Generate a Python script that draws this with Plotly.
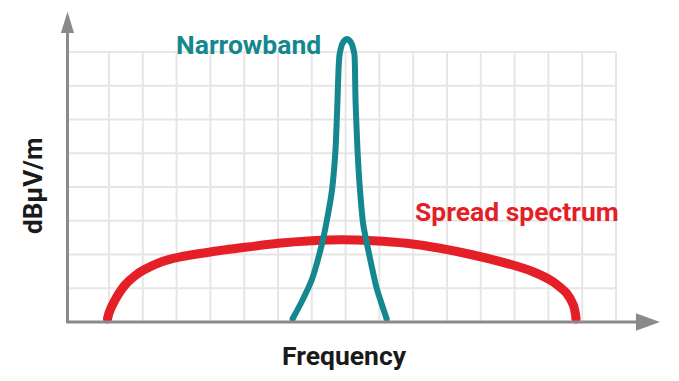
import plotly.graph_objects as go

# ---- data (frequency and level in grid units) ----
spread_x = [0.956, 1.000, 1.178, 1.473, 1.769, 2.065, 2.559, 3.041, 4.038, 5.024, 6.000,
            6.997, 7.885, 8.811, 9.808, 10.793, 11.769, 12.766, 13.544, 14.136, 14.541,
            14.737, 14.808, 14.817]
spread_y = [0.089, 0.267, 0.652, 1.096, 1.372, 1.561, 1.787, 1.917, 2.083, 2.213, 2.332,
            2.409, 2.439, 2.409, 2.332, 2.184, 1.985, 1.739, 1.490, 1.193, 0.850,
            0.504, 0.187, 0.089]

narrow_x = [6.429, 6.701, 6.997, 7.293, 7.420, 7.598, 7.701, 7.760, 7.790, 7.820, 7.849,
            7.893, 7.967, 8.041, 8.115, 8.189, 8.234, 8.263, 8.278, 8.293, 8.352, 8.426,
            8.524, 8.722, 8.920, 9.077, 9.216]
narrow_y = [0.089, 0.601, 1.244, 2.281, 2.874, 3.911, 5.096, 6.578, 7.467, 7.911, 8.059,
            8.222, 8.341, 8.385, 8.341, 8.222, 8.059, 7.911, 7.467, 6.578, 5.096, 3.911,
            2.874, 1.887, 0.999, 0.504, 0.089]

grid_x = list(range(1, 17))
grid_y = list(range(1, 9))

labels = {"narrow": "Narrowband", "spread": "Spread spectrum",
          "xtitle": "Frequency", "ytitle": "dBμV/m"}

TEAL = "#14888e"
RED = "#e41f27"
AXIS = "#8a8a8a"
GRID = "#e6e6e6"
FONT = "Roboto, Liberation Sans, Arial, sans-serif"

X0 = -0.228      # position of the y axis
XMAX = 16        # last grid column
YMAX = 8         # top grid row

# pixel -> grid-unit scale
PX_X = 33.8
PX_Y = 33.75
ORIGIN_X = 75.2
ORIGIN_Y = 322
OFFSET = 8  # page body margin

fig = go.Figure()

shapes = []
for gx in grid_x:
    shapes.append(dict(type="line", x0=gx, x1=gx, y0=0, y1=YMAX, layer="below",
                       line=dict(color=GRID, width=2)))
for gy in grid_y:
    shapes.append(dict(type="line", x0=X0, x1=XMAX, y0=gy, y1=gy, layer="below",
                       line=dict(color=GRID, width=2)))

# axes with arrowheads
shapes.append(dict(type="line", x0=X0, x1=16.62, y0=0, y1=0,
                   line=dict(color=AXIS, width=3)))
shapes.append(dict(type="line", x0=X0, x1=X0, y0=-0.04, y1=8.6,
                   line=dict(color=AXIS, width=3)))
shapes.append(dict(type="path",
                   path="M 16.59 0.26 L 17.30 0 L 16.59 -0.26 Z",
                   fillcolor=AXIS, line=dict(color=AXIS, width=0)))
shapes.append(dict(type="path",
                   path=f"M {X0-0.195} 8.56 L {X0} 9.19 L {X0+0.195} 8.56 Z",
                   fillcolor=AXIS, line=dict(color=AXIS, width=0)))

fig.add_trace(go.Scatter(x=spread_x, y=spread_y, mode="lines",
                         line=dict(color=RED, width=9, shape="spline", smoothing=0.6),
                         hoverinfo="skip", showlegend=False))
fig.add_trace(go.Scatter(x=[spread_x[0], spread_x[-1]], y=[spread_y[0], spread_y[-1]],
                         mode="markers", marker=dict(color=RED, size=9, line=dict(width=0)),
                         hoverinfo="skip", showlegend=False))
fig.add_trace(go.Scatter(x=narrow_x, y=narrow_y, mode="lines",
                         line=dict(color=TEAL, width=6, shape="spline", smoothing=0.6),
                         hoverinfo="skip", showlegend=False))
fig.add_trace(go.Scatter(x=[narrow_x[0], narrow_x[-1]], y=[narrow_y[0], narrow_y[-1]],
                         mode="markers", marker=dict(color=TEAL, size=6, line=dict(width=0)),
                         hoverinfo="skip", showlegend=False))

annotations = [
    dict(x=5.14, y=8.22, text=f"<b>{labels['narrow']}</b>", showarrow=False,
         font=dict(family=FONT, size=26.5, color=TEAL), xanchor="center", yanchor="middle"),
    dict(x=13.07, y=3.26, text=f"<b>{labels['spread']}</b>", showarrow=False,
         font=dict(family=FONT, size=26.5, color=RED), xanchor="center", yanchor="middle"),
    dict(x=7.98, y=-0.98, text=f"<b>{labels['xtitle']}</b>", showarrow=False,
         font=dict(family=FONT, size=26.5, color="#1a1a1a"), xanchor="center", yanchor="middle"),
    dict(x=-1.25, y=4.03, text=f"<b>{labels['ytitle']}</b>", showarrow=False, textangle=-90,
         font=dict(family=FONT, size=26, color="#1a1a1a"), xanchor="center", yanchor="middle"),
]

W, H = 679 - OFFSET, 381 - OFFSET
fig.update_layout(
    width=W, height=H,
    margin=dict(l=0, r=0, t=0, b=0),
    paper_bgcolor="white", plot_bgcolor="white",
    xaxis=dict(range=[(OFFSET - ORIGIN_X) / PX_X, (679 - ORIGIN_X) / PX_X],
               visible=False, fixedrange=True),
    yaxis=dict(range=[(ORIGIN_Y - 381) / PX_Y, (ORIGIN_Y - OFFSET) / PX_Y],
               visible=False, fixedrange=True),
    shapes=shapes, annotations=annotations,
)

fig.write_html("out.html")
